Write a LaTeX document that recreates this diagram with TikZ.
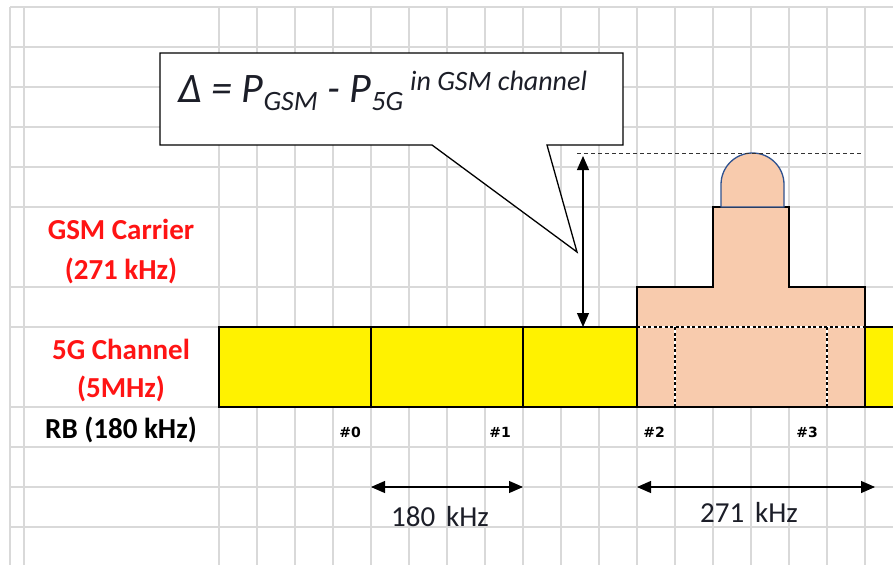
\documentclass[tikz,border=0pt]{standalone}
\usepackage{fontspec}
\setmainfont{Carlito}
\newfontfamily\rbfont{DejaVu Sans}
\usetikzlibrary{arrows.meta}
\definecolor{gridgray}{RGB}{217,217,217}
\definecolor{gsmpeach}{RGB}{248,203,173}
\definecolor{domeblue}{RGB}{47,82,143}
\definecolor{labelred}{RGB}{255,20,20}
\definecolor{textdark}{RGB}{28,30,40}
\begin{document}
\begin{tikzpicture}[x=1pt, y=-1pt, >={Triangle[length=14pt,width=12pt]}, line join=miter,
		gridline/.style={draw=gridgray, line width=1.3pt},
		edge/.style={draw=black, line width=1.3pt},
		dotline/.style={draw=black, line width=1.3pt, dash pattern=on 3pt off 2.5pt},
		rowlabel/.style={font=\bfseries\fontsize{29}{33}\selectfont, anchor=base, text=labelred},
		rbnum/.style={font=\rbfont\bfseries\fontsize{14}{16}\selectfont, anchor=base},
		widthlabel/.style={font=\fontsize{29}{33}\selectfont, text=textdark}]
		
		\clip (0,0) rectangle (893,565);
		\fill[white] (0,0) rectangle (893,565);
		
		\foreach \gx in {10,24,219,257,...,903}
			\draw[gridline] (\gx,7) -- (\gx,565);
		\foreach \gy in {7,47,87,127,167,207,287,327,407,447,487,527}
			\draw[gridline] (10,\gy) -- (893,\gy);
		
		\filldraw[fill=yellow, edge] (219,327) rectangle (900,407);
		\foreach \rx in {371,523}
			\draw[edge] (\rx,327) -- (\rx,407);
		
		\filldraw[fill=gsmpeach, edge] (637,407) -- (637,287) -- (713,287) -- (713,207) -- (789,207) -- (789,287) -- (865,287) -- (865,407) -- cycle;
		\filldraw[fill=gsmpeach, draw=domeblue, line width=1.3pt] (721,207) -- (721,184.5) arc[start angle=180, end angle=360, radius=31.5] -- (784,207) -- cycle;
		
		\foreach \a/\b in {{637,327}/{865,327}, {675,327}/{675,407}, {827,327}/{827,407}} {
			\draw[white, line width=1.3pt] (\a) -- (\b);
			\draw[dotline] (\a) -- (\b);
		}
		
		\coordinate (peak) at (583,156);
		\coordinate (floor) at (583,327);
		\coordinate (peakstart) at (577,153);
		\coordinate (peakend) at (861,153);
		\draw[black!80, line width=0.9pt, dash pattern=on 4pt off 3pt] (peakstart) -- (peakend);
		\draw[<->, line width=1.1pt] (peak) -- (floor);
		
		\filldraw[fill=white, edge] (160,53) -- (623,53) -- (623,145) -- (547,145) -- (577,252) -- (432,145) -- (160,145) -- cycle;
		\node[anchor=base west, inner sep=0pt, text=textdark, font=\itshape\fontsize{42}{48}\selectfont] (delta) at (178,102)
			{Δ = P\raisebox{-8pt}{\fontsize{28}{32}\selectfont GSM} - P\raisebox{-8pt}{\fontsize{28}{32}\selectfont 5G}\,\raisebox{12pt}{\fontsize{28}{32}\selectfont in GSM channel}};
		
		\node[rowlabel] (gsmname) at (121,239) {GSM Carrier};
		\node[rowlabel] (gsmrate) at (121,279) {(271 kHz)};
		\node[rowlabel] (nrname) at (121,359) {5G Channel};
		\node[rowlabel] (nrrate) at (121,397) {(5MHz)};
		\node[rowlabel, text=black] (rbname) at (121,438) {RB (180 kHz)};
		
		\node[rbnum] (rb0) at (350,437) {\#0};
		\node[rbnum] (rb1) at (500,437) {\#1};
		\node[rbnum] (rb2) at (654,437) {\#2};
		\node[rbnum] (rb3) at (807,437) {\#3};
		
		\coordinate (rbleft) at (371,487);
		\coordinate (rbright) at (523,487);
		\coordinate (gsmleft) at (637,487);
		\coordinate (gsmright) at (875,487);
		\draw[<->, line width=1.1pt] (rbleft) -- (rbright);
		\draw[<->, line width=1.1pt] (gsmleft) -- (gsmright);
		\node[widthlabel] (rbwidth) at (440,517) {180\hspace{0.38em}kHz};
		\node[widthlabel] (gsmwidth) at (749,512) {271\hspace{0.38em}kHz};
		
	\end{tikzpicture}
\end{document}
